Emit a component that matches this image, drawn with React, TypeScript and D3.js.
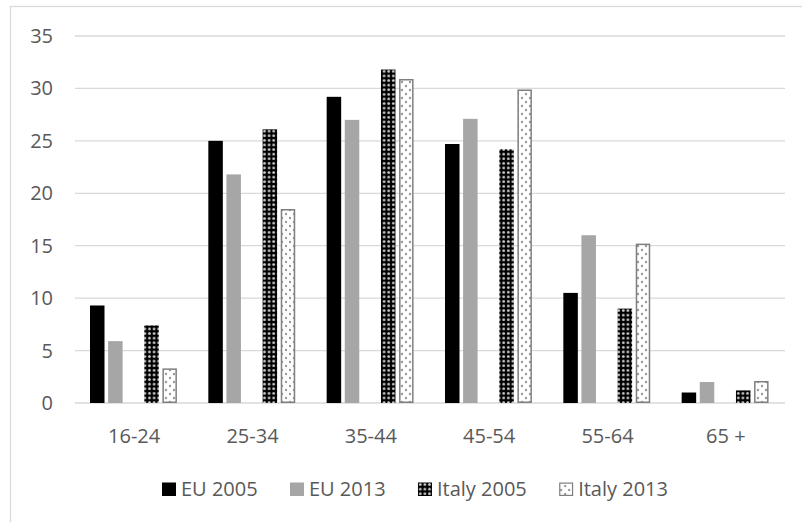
import React, { useEffect, useRef } from "react";
import * as d3 from "d3";

const categories = ["16-24", "25-34", "35-44", "45-54", "55-64", "65 +"];
const seriesNames = ["EU 2005", "EU 2013", "Italy 2005", "Italy 2013"];
const eu2005 = [9.3, 25.0, 29.2, 24.7, 10.5, 1.0];
const eu2013 = [5.9, 21.8, 27.0, 27.1, 16.0, 2.0];
const italy2005 = [7.4, 26.1, 31.8, 24.2, 9.0, 1.2];
const italy2013 = [3.3, 18.5, 30.9, 29.9, 15.2, 2.1];
const yTicks = [0, 5, 10, 15, 20, 25, 30, 35];

const W = 802;
const H = 522;
const FONT = "'Open Sans', sans-serif";
const TXT = "#595959";
const FS = 20;

export default function App() {
  const ref = useRef<SVGSVGElement | null>(null);
  useEffect(() => {
    const svg = d3.select(ref.current);
    svg.selectAll("*").remove();

    const defs = svg.append("defs");
    const p1 = defs
      .append("pattern")
      .attr("id", "pItaly05")
      .attr("patternUnits", "userSpaceOnUse")
      .attr("width", 4.6)
      .attr("height", 4.6);
    p1.append("rect").attr("width", 4.6).attr("height", 4.6).attr("fill", "#000");
    p1.append("circle").attr("cx", 2.3).attr("cy", 2.3).attr("r", 1.4).attr("fill", "#c8c8c8");

    const p2 = defs
      .append("pattern")
      .attr("id", "pItaly13")
      .attr("patternUnits", "userSpaceOnUse")
      .attr("width", 8)
      .attr("height", 8);
    p2.append("rect").attr("width", 8).attr("height", 8).attr("fill", "#fff");
    p2.append("circle").attr("cx", 2).attr("cy", 2).attr("r", 1.2).attr("fill", "#999999");
    p2.append("circle").attr("cx", 6).attr("cy", 6).attr("r", 1.2).attr("fill", "#999999");

    const fills = ["#000000", "#a6a6a6", "url(#pItaly05)", "url(#pItaly13)"];
    const strokes = ["none", "none", "none", "#7f7f7f"];
    const series = [eu2005, eu2013, italy2005, italy2013];
    const slots = [0, 1, 3, 4];

    svg
      .append("rect")
      .attr("x", 10.5)
      .attr("y", 6.5)
      .attr("width", 800)
      .attr("height", 530)
      .attr("fill", "#fff")
      .attr("stroke", "#d9d9d9")
      .attr("stroke-width", 1.3);

    const left = 75;
    const right = 785;
    const x = d3.scaleBand<string>().domain(categories).range([left, right]).padding(0);
    const y = d3.scaleLinear().domain([0, 35]).range([403, 36]);

    const g = svg.append("g");
    g.selectAll("line.grid")
      .data(yTicks)
      .enter()
      .append("line")
      .attr("x1", left)
      .attr("x2", right)
      .attr("y1", (d) => y(d))
      .attr("y2", (d) => y(d))
      .attr("stroke", "#d9d9d9")
      .attr("stroke-width", 1.3);

    g.selectAll("text.yt")
      .data(yTicks)
      .enter()
      .append("text")
      .attr("x", 53)
      .attr("y", (d) => y(d))
      .attr("dy", "0.35em")
      .attr("text-anchor", "end")
      .attr("font-family", FONT)
      .attr("font-size", FS)
      .attr("fill", TXT)
      .text((d) => String(d));

    const bw = x.bandwidth();
    const pitch = 18.1;
    const barW = 14.5;
    const offset = 15;

    series.forEach((vals, si) => {
      const s = strokes[si] !== "none" ? 0.75 : 0;
      g.selectAll(`rect.s${si}`)
        .data(vals)
        .enter()
        .append("rect")
        .attr("x", (_d, i) => (x(categories[i]) as number) + offset + slots[si] * pitch + s)
        .attr("y", (d) => y(d) + s)
        .attr("width", barW - 2 * s)
        .attr("height", (d) => y(0) - y(d) - 2 * s)
        .attr("fill", fills[si])
        .attr("stroke", strokes[si])
        .attr("stroke-width", 1.5);
    });

    g.selectAll("text.xt")
      .data(categories)
      .enter()
      .append("text")
      .attr("x", (d) => (x(d) as number) + bw / 2)
      .attr("y", 443)
      .attr("text-anchor", "middle")
      .attr("font-family", FONT)
      .attr("font-size", FS)
      .attr("fill", TXT)
      .text((d) => d);

    // legend
    const lg = svg.append("g");
    const items = seriesNames.map((name, i) => {
      const it = lg.append("g");
      const s = strokes[i] !== "none" ? 0.6 : 0;
      it.append("rect")
        .attr("x", s)
        .attr("y", -13.5 + s)
        .attr("width", 14 - 2 * s)
        .attr("height", 13.5 - 2 * s)
        .attr("fill", fills[i])
        .attr("stroke", strokes[i])
        .attr("stroke-width", 1.2);
      const t = it
        .append("text")
        .attr("x", 19)
        .attr("y", 0)
        .attr("font-family", FONT)
        .attr("font-size", FS)
        .attr("fill", TXT)
        .text(name);
      const tw = (t.node() as SVGTextElement).getComputedTextLength();
      return { it, w: 19 + tw };
    });
    const targetTotal = 506;
    const sum = items.reduce((s, a) => s + a.w, 0);
    const gap = Math.max(8, (targetTotal - sum) / (items.length - 1));
    const total = sum + gap * (items.length - 1);
    let cx = 415 - total / 2;
    items.forEach((a) => {
      a.it.attr("transform", `translate(${cx},496)`);
      cx += a.w + gap;
    });
  }, []);

  return (
    <svg
      ref={ref}
      width={W}
      height={H}
      style={{ position: "absolute", left: 0, top: 0, background: "#fff" }}
    />
  );
}
